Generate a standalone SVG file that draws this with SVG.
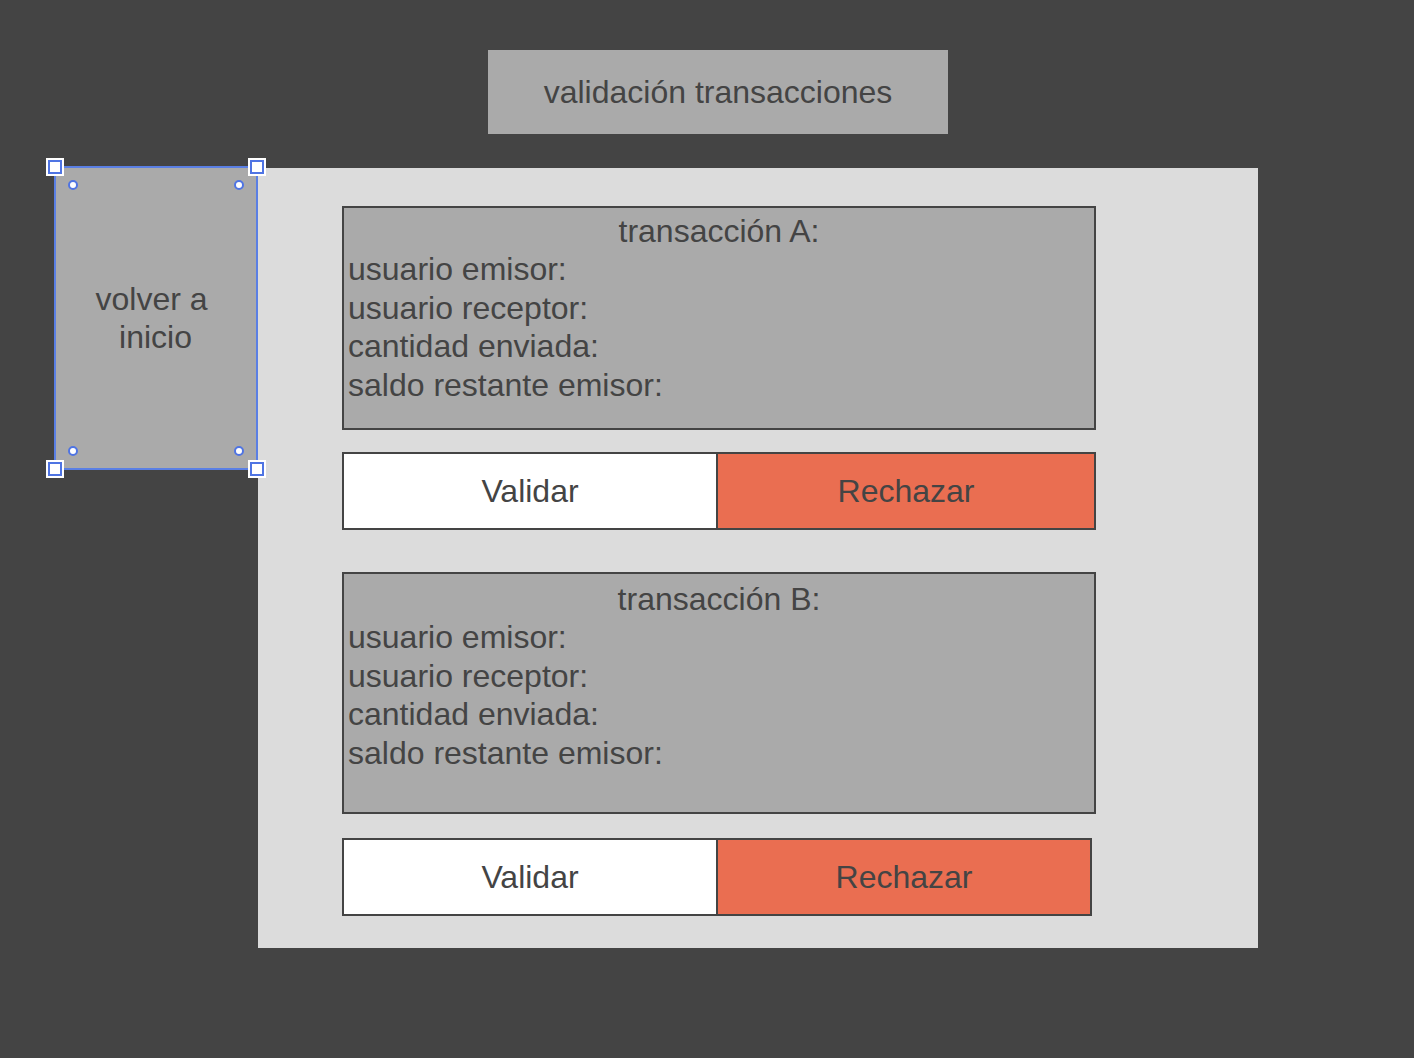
<svg xmlns="http://www.w3.org/2000/svg" width="1414" height="1058" viewBox="0 0 1414 1058">
<style>
text{font-family:"Liberation Sans",Arial,sans-serif;font-size:32px;fill:#444444}
.c{text-anchor:middle}
.box{fill:#aaaaaa;stroke:#444444;stroke-width:2}
.ok{fill:#ffffff;stroke:#444444;stroke-width:2}
.no{fill:#ea6e51;stroke:#444444;stroke-width:2}
.hs{fill:#ffffff;stroke:#4f74e3;stroke-width:2}
</style>
<rect x="0" y="0" width="1414" height="1058" fill="#444444"/>
<g id="title">
<rect x="488" y="50" width="460" height="84" fill="#aaaaaa"/>
<text class="c" x="718" y="103">validación transacciones</text>
</g>
<g id="panel">
<rect x="258" y="168" width="1000" height="780" fill="#dcdcdc"/>
</g>
<g id="volver">
<rect x="55" y="167" width="202" height="302" fill="#aaaaaa" stroke="#5a7fe4" stroke-width="2"/>
<text class="c" x="151.5" y="310">volver a</text>
<text class="c" x="155.5" y="348">inicio</text>
<g id="handles">
<rect x="46" y="158" width="18" height="18" fill="#ffffff"/>
<rect x="49" y="161" width="12" height="12" class="hs"/>
<rect x="248" y="158" width="18" height="18" fill="#ffffff"/>
<rect x="251" y="161" width="12" height="12" class="hs"/>
<rect x="46" y="460" width="18" height="18" fill="#ffffff"/>
<rect x="49" y="463" width="12" height="12" class="hs"/>
<rect x="248" y="460" width="18" height="18" fill="#ffffff"/>
<rect x="251" y="463" width="12" height="12" class="hs"/>
<circle cx="73" cy="185" r="4" class="hs"/>
<circle cx="239" cy="185" r="4" class="hs"/>
<circle cx="73" cy="451" r="4" class="hs"/>
<circle cx="239" cy="451" r="4" class="hs"/>
</g>
</g>
<g id="transA">
<rect x="343" y="207" width="752" height="222" class="box"/>
<text class="c" x="719" y="242">transacción A:</text>
<text x="348" y="280.4">usuario emisor:</text>
<text x="348" y="318.8">usuario receptor:</text>
<text x="348" y="357.2">cantidad enviada:</text>
<text x="348" y="395.6">saldo restante emisor:</text>
</g>
<g id="validarA">
<rect x="343" y="453" width="374" height="76" class="ok"/>
<text class="c" x="530" y="502">Validar</text>
</g>
<g id="rechazarA">
<rect x="717" y="453" width="378" height="76" class="no"/>
<text class="c" x="906" y="502">Rechazar</text>
</g>
<g id="transB">
<rect x="343" y="573" width="752" height="240" class="box"/>
<text class="c" x="719" y="610">transacción B:</text>
<text x="348" y="648.4">usuario emisor:</text>
<text x="348" y="686.8">usuario receptor:</text>
<text x="348" y="725.2">cantidad enviada:</text>
<text x="348" y="763.6">saldo restante emisor:</text>
</g>
<g id="validarB">
<rect x="343" y="839" width="374" height="76" class="ok"/>
<text class="c" x="530" y="888">Validar</text>
</g>
<g id="rechazarB">
<rect x="717" y="839" width="374" height="76" class="no"/>
<text class="c" x="904" y="888">Rechazar</text>
</g>
<g id="connectors"></g>
</svg>
